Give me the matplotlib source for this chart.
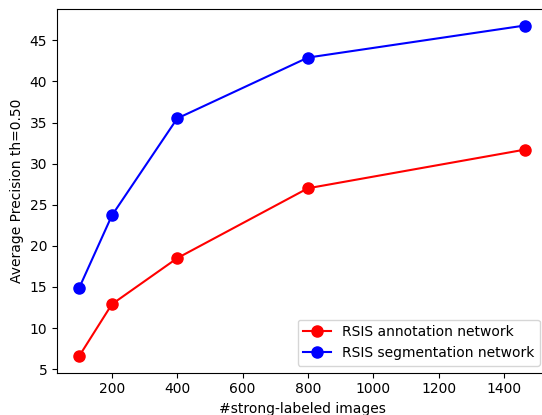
import matplotlib
matplotlib.use('Agg')
import matplotlib.pyplot as plt

numImages = [100, 200, 400, 800, 1464]
annotationAP = [6.6, 12.9, 18.5, 27.0, 31.7]
segmentationAP = [14.9, 23.7, 35.5, 42.9, 46.8]

fig = plt.figure(figsize=(5.42, 4.15), dpi=100)
# right edge of the axes sits just outside the figure, as in the original crop
ax = fig.add_axes([57/542, 1 - 372.5/415, (547 - 57)/542, (372.5 - 9)/415])

ax.plot(numImages, annotationAP, color='red', marker='o', markersize=8, label='RSIS annotation network')
ax.plot(numImages, segmentationAP, color='blue', marker='o', markersize=8, label='RSIS segmentation network')

ax.set_xlabel('#strong-labeled images')
ax.set_ylabel('Average Precision th=0.50')
ax.legend(loc='lower right')

fig.savefig('out.png', dpi=100)
